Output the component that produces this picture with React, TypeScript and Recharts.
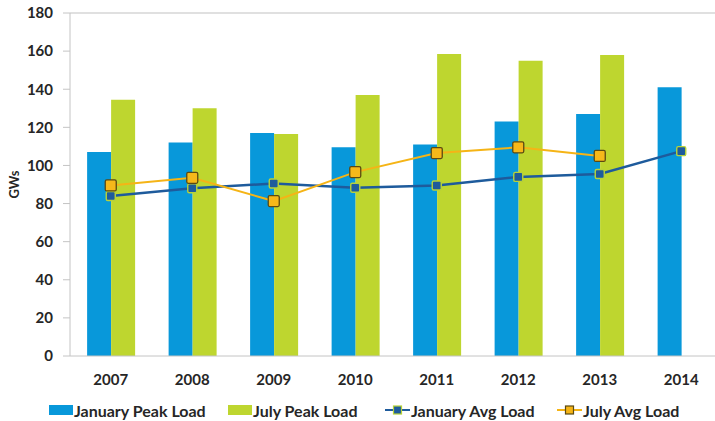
import { ComposedChart, Bar, Line, XAxis, YAxis, ReferenceLine } from "recharts"

const years = ["2007", "2008", "2009", "2010", "2011", "2012", "2013", "2014"]
const januaryPeak = [107, 112, 117, 109.5, 111, 123, 127, 141]
const julyPeak = [134.5, 130, 116.5, 137, 158.5, 155, 158, null]
const januaryAvg = [84, 88, 90.5, 88.3, 89.5, 94, 95.5, 107.5]
const julyAvg = [89.5, 93.5, 81.3, 96.5, 106.5, 109.5, 105, null]
const yTicks = [0, 20, 40, 60, 80, 100, 120, 140, 160, 180]
const edgeTicks = [0, 1, 2, 3, 4, 5, 6, 7, 8]

const data = years.map((year, i) => ({
  year,
  janPeak: januaryPeak[i],
  julPeak: julyPeak[i],
  janAvg: januaryAvg[i],
  julAvg: julyAvg[i],
}))

const BLUE = "#0898da"
const GREEN = "#bed62f"
const NAVY = "#1e5b9c"
const GOLD = "#f5b416"
const AXIS = "#c4c4c4"
const TEXT = "#262626"
const FONT = "Lato, 'Open Sans', sans-serif"

const tickStyle = { fontSize: 15, fontWeight: 700, fill: TEXT, fontFamily: FONT }

const squareDot = (size: number, fill: string, stroke: string, sw: number) =>
  (props: any) => {
    const { cx, cy, index } = props
    if (cx == null || cy == null || props.value == null) return <g key={index} />
    return (
      <rect
        key={index}
        x={cx - size / 2}
        y={cy - size / 2}
        width={size}
        height={size}
        rx={1.5}
        fill={fill}
        stroke={stroke}
        strokeWidth={sw}
      />
    )
  }

// legend entries, each with its left edge in the row
const legendItems = [
  { label: "January Peak Load", kind: "bar", color: BLUE, left: 49 },
  { label: "July Peak Load", kind: "bar", color: GREEN, left: 228 },
  { label: "January Avg Load", kind: "line", color: NAVY, border: "#b7d23a", left: 385 },
  { label: "July Avg Load", kind: "line", color: GOLD, border: "#5b4a12", left: 557 },
]

function LegendRow() {
  return (
    <div
      style={{
        position: "absolute",
        left: 0,
        top: 400,
        width: 715,
        height: 20,
        fontFamily: FONT,
        fontWeight: 700,
        fontSize: 16,
        color: TEXT,
        whiteSpace: "nowrap",
      }}
    >
      {legendItems.map((item) => (
        <div
          key={item.label}
          style={{ position: "absolute", left: item.left, top: 0, height: 20, display: "flex", alignItems: "center" }}
        >
          {item.kind === "bar" ? (
            <span style={{ width: 24, height: 10, background: item.color, display: "inline-block" }} />
          ) : (
            <svg width={25} height={12}>
              <line x1={0} y1={6} x2={25} y2={6} stroke={item.color} strokeWidth={2} />
              <rect x={8.5} y={2} width={8} height={8} fill={item.color} stroke={item.border} strokeWidth={1.2} />
            </svg>
          )}
          <span style={{ marginLeft: 1 }}>{item.label}</span>
        </div>
      ))}
    </div>
  )
}

export default function App() {
  return (
    <div
      style={{
        position: "absolute",
        left: 0,
        top: 0,
        width: 715,
        height: 421,
        overflow: "hidden",
        background: "#fff",
      }}
    >
      <ComposedChart
        width={730}
        height={392}
        data={data}
        margin={{ top: 13, right: 8, bottom: 0, left: 0 }}
        barCategoryGap="21%"
        barGap={0}
      >
        <XAxis
          xAxisId="edges"
          type="number"
          domain={[0, 8]}
          ticks={edgeTicks}
          interval={0}
          tick={false}
          axisLine={false}
          tickSize={6}
          tickLine={{ stroke: AXIS }}
          height={0}
        />
        <XAxis
          dataKey="year"
          tickLine={false}
          tickSize={6}
          tickMargin={12}
          height={36}
          axisLine={{ stroke: AXIS }}
          tick={tickStyle}
        />
        <YAxis
          domain={[0, 180]}
          ticks={yTicks}
          interval={0}
          width={70}
          tickSize={7}
          tickMargin={10}
          axisLine={{ stroke: AXIS }}
          tickLine={{ stroke: AXIS }}
          tick={tickStyle}
          label={{
            value: "GWs",
            angle: -90,
            position: "insideLeft",
            offset: 14,
            style: { fontSize: 13, fontWeight: 700, fill: TEXT, fontFamily: FONT, textAnchor: "middle" },
          }}
        />
        <ReferenceLine y={180} stroke="#d6d6d6" strokeWidth={1.5} />
        <Bar dataKey="janPeak" fill={BLUE} isAnimationActive={false} />
        <Bar dataKey="julPeak" fill={GREEN} isAnimationActive={false} />
        <Line
          dataKey="janAvg"
          stroke={NAVY}
          strokeWidth={2.5}
          dot={squareDot(9, NAVY, "#b7d23a", 1.4)}
          activeDot={false}
          isAnimationActive={false}
        />
        <Line
          dataKey="julAvg"
          stroke={GOLD}
          strokeWidth={2}
          dot={squareDot(11, "#f6b81a", "#5b4a12", 1.3)}
          activeDot={false}
          isAnimationActive={false}
        />
      </ComposedChart>
      <LegendRow />
    </div>
  )
}
